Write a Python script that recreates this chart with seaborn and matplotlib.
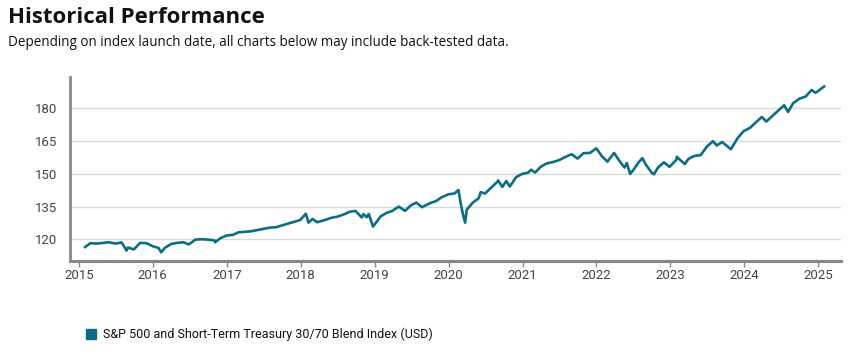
import pandas as pd
import matplotlib.pyplot as plt
import matplotlib.dates as mdates
import seaborn as sns

# index level readings (approximate)
dates = [
    "2015-01-30", "2015-02-27", "2015-03-31", "2015-04-30", "2015-05-29", "2015-06-30",
    "2015-07-31", "2015-08-24", "2015-08-31", "2015-09-29", "2015-10-30", "2015-11-30",
    "2015-12-31", "2016-01-29", "2016-02-11", "2016-02-29", "2016-03-31", "2016-04-29",
    "2016-05-31", "2016-06-27", "2016-07-29", "2016-08-31", "2016-09-30", "2016-10-31",
    "2016-11-04", "2016-11-30", "2016-12-30", "2017-01-31", "2017-02-28", "2017-03-31",
    "2017-04-28", "2017-05-31", "2017-06-30", "2017-07-31", "2017-08-31", "2017-09-29",
    "2017-10-31", "2017-11-30", "2017-12-29", "2018-01-26", "2018-02-08", "2018-02-28",
    "2018-03-23", "2018-04-30", "2018-05-31", "2018-06-29", "2018-07-31", "2018-08-31",
    "2018-09-28", "2018-10-29", "2018-11-07", "2018-11-23", "2018-12-03", "2018-12-24",
    "2019-01-31", "2019-02-28", "2019-03-29", "2019-04-30", "2019-05-31", "2019-06-28",
    "2019-07-26", "2019-08-23", "2019-09-30", "2019-10-31", "2019-11-29", "2019-12-31",
    "2020-01-31", "2020-02-19", "2020-02-28", "2020-03-12", "2020-03-23", "2020-03-31",
    "2020-04-30", "2020-05-29", "2020-06-08", "2020-06-30", "2020-07-31", "2020-08-31",
    "2020-09-02", "2020-09-23", "2020-10-12", "2020-10-30", "2020-11-30", "2020-12-31",
    "2021-01-29", "2021-02-12", "2021-03-04", "2021-03-31", "2021-04-30", "2021-05-31",
    "2021-06-30", "2021-07-30", "2021-08-31", "2021-09-30", "2021-10-29", "2021-11-30",
    "2021-12-31", "2022-01-27", "2022-02-24", "2022-03-29", "2022-04-29", "2022-05-20",
    "2022-05-31", "2022-06-16", "2022-06-30", "2022-07-29", "2022-08-16", "2022-08-31",
    "2022-09-30", "2022-10-12", "2022-10-31", "2022-11-30", "2022-12-28", "2023-01-31",
    "2023-02-02", "2023-03-13", "2023-03-31", "2023-04-28", "2023-05-31", "2023-06-30",
    "2023-07-31", "2023-08-18", "2023-09-14", "2023-10-27", "2023-11-30", "2023-12-29",
    "2024-01-31", "2024-02-29", "2024-03-28", "2024-04-19", "2024-05-31", "2024-06-28",
    "2024-07-16", "2024-08-05", "2024-08-30", "2024-09-30", "2024-10-31", "2024-11-29",
    "2024-12-18", "2024-12-31", "2025-01-31",
]
values = [
    116.3, 118.2, 118.0, 118.3, 118.6, 118.0,
    118.5, 114.8, 116.2, 115.3, 118.3, 118.2,
    116.8, 116.0, 114.0, 116.0, 117.8, 118.3,
    118.6, 117.6, 119.8, 120.0, 119.8, 119.5,
    118.6, 120.5, 121.7, 122.0, 123.2, 123.4,
    123.6, 124.2, 124.7, 125.3, 125.5, 126.3,
    127.2, 128.0, 128.8, 131.7, 127.6, 129.3,
    127.8, 128.8, 129.8, 130.3, 131.3, 132.6,
    133.0, 130.0, 131.5, 130.1, 131.6, 125.8,
    130.5, 132.0, 133.0, 135.0, 133.0, 135.5,
    136.8, 134.7, 136.5, 137.5, 139.3, 140.6,
    141.0, 142.6, 137.5, 131.5, 127.6, 133.5,
    136.8, 138.8, 141.6, 141.0, 143.8, 146.5,
    147.0, 144.0, 146.7, 144.2, 148.5, 150.0,
    150.6, 151.9, 150.6, 153.2, 154.8, 155.4,
    156.3, 157.7, 159.0, 157.0, 159.5, 159.6,
    161.7, 158.2, 155.6, 159.6, 155.3, 152.9,
    155.0, 150.0, 151.5, 155.4, 157.2, 154.5,
    150.6, 149.8, 152.8, 155.3, 153.2, 156.5,
    157.8, 154.5, 156.8, 158.2, 158.6, 162.5,
    165.0, 163.0, 164.6, 161.3, 166.5, 169.6,
    171.2, 173.8, 176.1, 174.0, 177.6, 180.0,
    181.5, 178.4, 182.5, 184.5, 185.5, 188.5,
    187.2, 188.0, 190.2,
]
series_name = "S&P 500 and Short-Term Treasury 30/70 Blend Index (USD)"
y_ticks = [120, 135, 150, 165, 180]
x_years = list(range(2015, 2026))

df = pd.DataFrame({"Date": pd.to_datetime(dates), "Value": values})

sns.set_style("white")
plt.rcParams["font.family"] = ["Roboto", "DejaVu Sans"]

line_color = "#0b6d86"
fig = plt.figure(figsize=(8.54, 3.61), dpi=100)
ax = fig.add_axes([0.082, 0.277, 0.903, 0.51])

sns.lineplot(data=df, x="Date", y="Value", ax=ax, color=line_color, linewidth=1.9)

ax.set_xlim(pd.Timestamp("2014-11-18"), pd.Timestamp("2025-04-24"))
ax.set_ylim(110, 194.5)
ax.set_yticks(y_ticks)
ax.set_xticks([pd.Timestamp(f"{y}-01-01") for y in x_years])
ax.xaxis.set_major_formatter(mdates.DateFormatter("%Y"))
ax.set_xlabel("")
ax.set_ylabel("")

ax.grid(axis="y", color="#d9d9d9", linewidth=1)
ax.set_axisbelow(True)
for side in ["top", "right"]:
    ax.spines[side].set_visible(False)
ax.spines["left"].set_color("#888888")
ax.spines["left"].set_linewidth(2)
ax.spines["bottom"].set_color("#888888")
ax.spines["bottom"].set_linewidth(2.2)
ax.tick_params(axis="x", length=4, width=1, color="#888888", labelsize=9.5,
               labelcolor="#444444", pad=2, bottom=True)
ax.tick_params(axis="y", length=0, labelsize=9.5, labelcolor="#444444", pad=9)

fig.text(0.009, 0.952, "Historical Performance", fontsize=16, fontweight="bold",
         family=["Open Sans", "DejaVu Sans"], color="#111111", va="center", ha="left")
fig.text(0.009, 0.883, "Depending on index launch date, all charts below may include back-tested data.",
         fontsize=9.75, family=["Open Sans", "DejaVu Sans"], color="#111111",
         va="center", ha="left")

# legend
fig.patches.append(plt.Rectangle((86.5 / 854, (361 - 339) / 361), 10 / 854, 10 / 361,
                                 transform=fig.transFigure, color=line_color, figure=fig))
fig.text(103 / 854, (361 - 334) / 361, series_name, fontsize=9, color="#111111",
         va="center", ha="left")

fig.savefig("out.png", dpi=100)
